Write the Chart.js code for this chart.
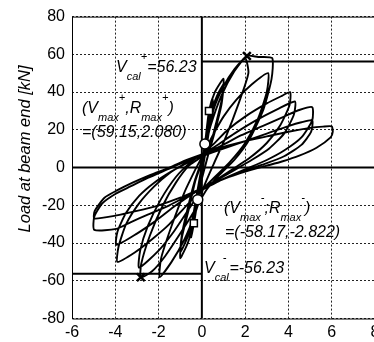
<!DOCTYPE html>
<html>
<head>
<meta charset="utf-8">
<script src="https://cdn.jsdelivr.net/npm/chart.js@4"></script>
<style>
  html, body { margin: 0; padding: 0; background: #fff; }
  #wrap { width: 374px; height: 342px; overflow: hidden; }
  canvas { display: block; }
</style>
</head>
<body>
<div id="wrap"><canvas id="loopChart" width="392" height="342"></canvas></div>
<script>
// load cycles: [rotation R, load at beam end kN]
const cycle1 = [[0,0],[0.12,11],[0.25,21],[0.2,14],[0.05,2],[-0.1,-9],[-0.25,-21],[-0.2,-14],[-0.05,-2],[0,1]];
const cycle2 = [[0.15,12],[0.33,28],[0.5,36],[0.42,26],[0.2,10],[0,-3],[-0.19,-17],[-0.37,-30],[-0.5,-37],[-0.42,-27],[-0.2,-12],[0,1]];
const cycle3 = [[0.14,12],[0.33,30],[0.6,40],[1.0,47],[0.92,36],[0.6,21],[0.3,7],[0,-6],[-0.2,-17],[-0.4,-30],[-0.65,-40],[-1.0,-48],[-0.92,-37],[-0.6,-22],[-0.3,-7],[0,3]];
const cycle4 = [[0.2,14],[0.45,30],[0.7,38],[1.0,44],[0.9,33],[0.6,19],[0.25,5],[0,-6],[-0.3,-20],[-0.6,-35],[-1.0,-45],[-0.9,-34],[-0.6,-19],[-0.3,-6],[0,4]];
const cycle5 = [[0.25,16],[0.55,31],[1.0,43],[1.5,52],[2.0,58],[2.15,50],[1.7,34],[1.1,16],[0.55,2],[0.1,-10],[-0.3,-24],[-0.8,-38],[-1.4,-50],[-1.95,-58],[-1.88,-48],[-1.4,-31],[-0.8,-13],[-0.3,-1],[0.1,8]];
const cycle6 = [[0.4,22],[0.9,38],[1.5,51],[2.08,59.15],[2.6,58.6],[3.25,58],[3.22,47],[2.85,31],[2.2,15],[1.5,4],[0.8,-4],[0.2,-12],[-0.4,-24],[-1.0,-35],[-1.7,-47],[-2.3,-55],[-2.82,-58.17],[-2.8,-51],[-2.4,-36],[-1.8,-20],[-1.2,-8],[-0.6,1],[0,6]];
const cycle7 = [[0.5,17],[1.0,27],[1.6,36],[2.3,44],[3.06,50],[3.0,40],[2.6,26],[2.0,13],[1.3,3],[0.6,-5],[0,-12],[-0.6,-22],[-1.3,-34],[-2.0,-44],[-2.9,-53],[-2.85,-44],[-2.5,-31],[-1.9,-17],[-1.2,-5],[-0.5,3],[0,7]];
const cycle8 = [[0.5,12],[1.2,20],[2.0,27],[3.0,34],[3.7,38],[4.08,40],[4.05,33],[3.6,22],[3.0,13],[2.2,5],[1.4,-1],[0.6,-7],[0,-12],[-0.7,-20],[-1.5,-30],[-2.3,-38],[-3.1,-45],[-3.9,-50],[-3.85,-42],[-3.5,-30],[-2.9,-19],[-2.2,-10],[-1.5,-3],[-0.8,2],[0,7]];
const cycle9 = [[0.6,11],[1.5,18],[2.5,25],[3.5,31],[4.3,35],[4.25,28],[3.8,18],[3.1,10],[2.3,4],[1.4,-2],[0.5,-8],[-0.3,-13],[-1.2,-20],[-2.1,-28],[-3.0,-35],[-3.95,-41],[-3.9,-34],[-3.5,-24],[-2.9,-15],[-2.2,-8],[-1.4,-2],[-0.6,3],[0,7]];
const cycle10 = [[0.8,11],[1.8,17],[2.8,22],[3.8,27],[4.5,30.5],[5.1,32],[5.1,25],[4.6,16],[3.8,9],[3.0,4],[2.0,-1],[1.0,-6],[0.3,-10],[-0.5,-14],[-1.5,-20],[-2.5,-25],[-3.3,-29],[-3.95,-32.5],[-4.97,-33],[-4.97,-26],[-4.6,-19],[-4.0,-14],[-3.3,-10],[-2.5,-5.5],[-1.6,-1],[-0.8,3],[0,6]];
const cycle11 = [[1.0,10],[2.0,14],[3.0,18],[4.0,22],[4.6,24],[5.1,25],[5.05,19],[4.6,12],[3.8,6],[2.8,1.5],[1.8,-2.5],[0.8,-7],[0,-11],[-1.0,-16],[-2.0,-20],[-3.0,-23],[-4.0,-25.5],[-4.97,-27],[-4.95,-23],[-4.5,-16],[-3.9,-12],[-3.2,-8],[-2.4,-4],[-1.5,0],[-0.7,4],[0,7]];
const cycle12 = [[1.0,11],[2.0,14],[3.0,16.5],[4.0,19],[5.0,21],[5.6,21.7],[6.0,21.8],[6.05,19],[5.95,16],[5.3,10.5],[4.5,6.3],[3.7,3.2],[3.0,1],[2.2,-1.5],[1.45,-4.2],[0.9,-6.5],[0.4,-9.5],[-0.2,-13]];

const squarePts = [[0.33, 30], [-0.37, -29.5]];
const circlePts = [[0.14, 12.5], [-0.19, -17]];
const maxPts = [[2.08, 59.15], [-2.82, -58.17]];
const vcalPos = 56.23;
const vcalNeg = -56.23;
const xRange = [-6, 8];
const yRange = [-80, 80];

const FONT = '"Liberation Sans", Arial, sans-serif';
const toXY = arr => arr.map(p => ({ x: p[0], y: p[1] }));
const loops = [cycle1, cycle2, cycle3, cycle4, cycle5, cycle6, cycle7, cycle8, cycle9, cycle10, cycle11, cycle12].flat();

// text with sub/superscripts, parts = [text, kind, dx]
function drawRich(ctx, x, y, parts) {
    let cx = x;
    parts.forEach(([t, k, dx]) => {
        cx += dx || 0;
        ctx.font = (k ? 'italic 11px ' : 'italic 16px ') + FONT;
        const dy = k === 'b' ? 8 : (k === 'p' ? -12 : 0);
        ctx.fillText(t, cx, y + dy);
        cx += ctx.measureText(t).width;
    });
}

const labelsPlugin = {
    id: 'labels',
    afterDraw(chart) {
        const ctx = chart.ctx;
        const a = chart.chartArea;
        ctx.save();
        // frame
        ctx.strokeStyle = '#000';
        ctx.lineWidth = 1;
        ctx.beginPath();
        ctx.moveTo(a.right + 2, a.top + 0.5);
        ctx.lineTo(a.left + 0.5, a.top + 0.5);
        ctx.lineTo(a.left + 0.5, a.bottom + 0.5);
        ctx.lineTo(a.right + 2, a.bottom + 0.5);
        ctx.stroke();

        ctx.fillStyle = '#000';
        ctx.textAlign = 'left';
        ctx.textBaseline = 'alphabetic';
        drawRich(ctx, 116, 72, [['V'], ['cal', 'b'], ['+', 'p'], ['=56.23']]);
        drawRich(ctx, 82, 113, [['(V'], ['max', 'b'], ['+', 'p'], [','], ['R'], ['max', 'b'], ['+', 'p'], [')']]);
        drawRich(ctx, 82, 137, [['=(59.15,2.080)']]);
        drawRich(ctx, 224, 213, [['(V'], ['max', 'b'], ['-', 'p'], [';'], ['R'], ['max', 'b'], ['-', 'p'], [')']]);
        drawRich(ctx, 225, 237, [['=(-58.17,-2.822)']]);
        drawRich(ctx, 204, 273, [['V'], ['cal', 'b'], ['-', 'p', -6], ['=-56.23', '', 3]]);

        // y title
        ctx.translate(25, 149);
        ctx.rotate(-Math.PI / 2);
        ctx.textAlign = 'center';
        ctx.textBaseline = 'middle';
        ctx.font = 'italic 16.5px ' + FONT;
        ctx.fillText('Load at beam end [kN]', 0, 0);
        ctx.restore();
    }
};

const ctx = document.getElementById('loopChart').getContext('2d');
new Chart(ctx, {
    type: 'scatter',
    data: {
        datasets: [
            { data: toXY(loops), showLine: true, borderColor: '#000', borderWidth: 1.9, pointRadius: 0, tension: 0.2, order: 2 },
            { data: [{ x: xRange[0], y: 0 }, { x: xRange[1], y: 0 }], showLine: true, borderColor: '#000', borderWidth: 2, pointRadius: 0, order: 3 },
            { data: [{ x: 0, y: yRange[0] }, { x: 0, y: yRange[1] }], showLine: true, borderColor: '#000', borderWidth: 2, pointRadius: 0, order: 3 },
            { data: [{ x: 0, y: vcalPos }, { x: xRange[1], y: vcalPos }], showLine: true, borderColor: '#000', borderWidth: 2, pointRadius: 0, order: 3 },
            { data: [{ x: xRange[0], y: vcalNeg }, { x: 0, y: vcalNeg }], showLine: true, borderColor: '#000', borderWidth: 2, pointRadius: 0, order: 3 },
            { data: toXY(squarePts), pointStyle: 'rect', pointRadius: 5, backgroundColor: '#fff', borderColor: '#000', borderWidth: 1.5, order: 0 },
            { data: toXY(circlePts), pointStyle: 'circle', pointRadius: 5, backgroundColor: '#fff', borderColor: '#000', borderWidth: 1.5, order: 0 },
            { data: toXY(maxPts), pointStyle: 'crossRot', pointRadius: 5.5, borderColor: '#000', borderWidth: 2.5, order: 0 }
        ]
    },
    options: {
        responsive: false,
        animation: false,
        layout: { padding: { left: 0, top: 16, right: 17, bottom: 0 } },
        plugins: { legend: { display: false }, tooltip: { enabled: false } },
        scales: {
            x: {
                type: 'linear', min: xRange[0], max: xRange[1],
                ticks: { stepSize: 2, padding: 4, color: '#000', font: { family: FONT, size: 16 } },
                grid: { color: '#222', lineWidth: 1, drawTicks: false },
                border: { display: false, dash: [2, 2] },
                afterFit: s => { s.height = 23.5; }
            },
            y: {
                type: 'linear', min: yRange[0], max: yRange[1],
                ticks: { stepSize: 20, padding: 7, color: '#000', font: { family: FONT, size: 16 } },
                grid: { color: '#222', lineWidth: 1, drawTicks: false },
                border: { display: false, dash: [2, 2] },
                afterFit: s => { s.width = 72; }
            }
        }
    },
    plugins: [labelsPlugin]
});
</script>
</body>
</html>
